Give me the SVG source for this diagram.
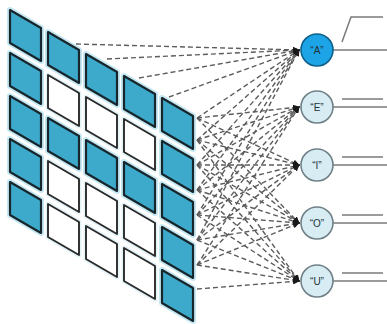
<svg xmlns="http://www.w3.org/2000/svg" xmlns:xlink="http://www.w3.org/1999/xlink" width="387" height="324" viewBox="0 0 387 324">
<style>
.g{fill:none;stroke:#c4e7f1;stroke-width:6;stroke-linejoin:round}
.gw{fill:none;stroke:#e3f3f8;stroke-width:5;stroke-linejoin:round}
.b{fill:#3eaacb;stroke:#17262c;stroke-width:2.2;stroke-linejoin:round}
.w{fill:#ffffff;stroke:#2a2a2a;stroke-width:1.9;stroke-linejoin:round}
.d{fill:none;stroke:#5c5c5c;stroke-width:1.4;stroke-dasharray:5 3;marker-end:url(#ah)}
.o{fill:none;stroke:#7a7a7a;stroke-width:1.5}
.n{fill:#d8ecf4;stroke:#6f8087;stroke-width:1.6}
.na{fill:#1ca4e6;stroke:#0d5f88;stroke-width:1.6}
.t{font-family:"Liberation Sans",Arial,sans-serif;font-size:10px;fill:#22323a;text-anchor:middle}
</style>
<defs>
<path id="tile" d="M0,0 L31,18 L31,51 L0,33 Z"/>
<marker id="ah" markerUnits="userSpaceOnUse" markerWidth="7" markerHeight="6" refX="6" refY="3" orient="auto">
<path d="M0,0 L7,3 L0,6 Z" fill="#1a1a1a"/>
</marker>
</defs>
<rect width="387" height="324" fill="#ffffff"/>

<g id="connectors">
<line class="d" x1="76" y1="44" x2="299" y2="50"/>
<line class="d" x1="107" y1="59" x2="299" y2="50"/>
<line class="d" x1="139" y1="78" x2="299" y2="50"/>
<line class="d" x1="169" y1="97" x2="299" y2="50"/>
<line class="d" x1="197" y1="118" x2="299" y2="50"/>
<line class="d" x1="197" y1="140" x2="299" y2="50"/>
<line class="d" x1="197" y1="165" x2="299" y2="50"/>
<line class="d" x1="197" y1="190" x2="299" y2="50"/>
<line class="d" x1="197" y1="215" x2="299" y2="50"/>
<line class="d" x1="197" y1="240" x2="299" y2="50"/>
<line class="d" x1="197" y1="118" x2="299" y2="107"/>
<line class="d" x1="197" y1="140" x2="299" y2="107"/>
<line class="d" x1="197" y1="165" x2="299" y2="107"/>
<line class="d" x1="197" y1="190" x2="299" y2="107"/>
<line class="d" x1="197" y1="215" x2="299" y2="107"/>
<line class="d" x1="197" y1="240" x2="299" y2="107"/>
<line class="d" x1="197" y1="265" x2="299" y2="107"/>
<line class="d" x1="197" y1="118" x2="299" y2="165"/>
<line class="d" x1="197" y1="140" x2="299" y2="165"/>
<line class="d" x1="197" y1="165" x2="299" y2="165"/>
<line class="d" x1="197" y1="190" x2="299" y2="165"/>
<line class="d" x1="197" y1="215" x2="299" y2="165"/>
<line class="d" x1="197" y1="240" x2="299" y2="165"/>
<line class="d" x1="197" y1="265" x2="299" y2="165"/>
<line class="d" x1="197" y1="118" x2="299" y2="223"/>
<line class="d" x1="197" y1="140" x2="299" y2="223"/>
<line class="d" x1="197" y1="165" x2="299" y2="223"/>
<line class="d" x1="197" y1="190" x2="299" y2="223"/>
<line class="d" x1="197" y1="215" x2="299" y2="223"/>
<line class="d" x1="197" y1="240" x2="299" y2="223"/>
<line class="d" x1="197" y1="265" x2="299" y2="223"/>
<line class="d" x1="197" y1="140" x2="299" y2="281"/>
<line class="d" x1="197" y1="165" x2="299" y2="281"/>
<line class="d" x1="197" y1="190" x2="299" y2="281"/>
<line class="d" x1="197" y1="215" x2="299" y2="281"/>
<line class="d" x1="197" y1="240" x2="299" y2="281"/>
<line class="d" x1="197" y1="265" x2="299" y2="281"/>
<line class="d" x1="197" y1="289" x2="299" y2="281"/>
</g>

<g id="grid">
<g id="glow">
<use href="#tile" class="g" x="10" y="10"/><use href="#tile" class="g" x="10" y="53"/><use href="#tile" class="g" x="10" y="96"/><use href="#tile" class="g" x="10" y="139"/><use href="#tile" class="g" x="10" y="182"/>
<use href="#tile" class="g" x="48" y="32"/><use href="#tile" class="gw" x="48" y="75"/><use href="#tile" class="g" x="48" y="118"/><use href="#tile" class="gw" x="48" y="161"/><use href="#tile" class="gw" x="48" y="204"/>
<use href="#tile" class="g" x="86" y="54"/><use href="#tile" class="gw" x="86" y="97"/><use href="#tile" class="g" x="86" y="140"/><use href="#tile" class="gw" x="86" y="183"/><use href="#tile" class="gw" x="86" y="226"/>
<use href="#tile" class="g" x="124" y="76"/><use href="#tile" class="gw" x="124" y="119"/><use href="#tile" class="g" x="124" y="162"/><use href="#tile" class="gw" x="124" y="205"/><use href="#tile" class="gw" x="124" y="248"/>
<use href="#tile" class="g" x="162" y="98"/><use href="#tile" class="g" x="162" y="141"/><use href="#tile" class="g" x="162" y="184"/><use href="#tile" class="g" x="162" y="227"/><use href="#tile" class="g" x="162" y="270"/>
</g>
<g id="tiles">
<use href="#tile" class="b" x="10" y="10"/><use href="#tile" class="b" x="10" y="53"/><use href="#tile" class="b" x="10" y="96"/><use href="#tile" class="b" x="10" y="139"/><use href="#tile" class="b" x="10" y="182"/>
<use href="#tile" class="b" x="48" y="32"/><use href="#tile" class="w" x="48" y="75"/><use href="#tile" class="b" x="48" y="118"/><use href="#tile" class="w" x="48" y="161"/><use href="#tile" class="w" x="48" y="204"/>
<use href="#tile" class="b" x="86" y="54"/><use href="#tile" class="w" x="86" y="97"/><use href="#tile" class="b" x="86" y="140"/><use href="#tile" class="w" x="86" y="183"/><use href="#tile" class="w" x="86" y="226"/>
<use href="#tile" class="b" x="124" y="76"/><use href="#tile" class="w" x="124" y="119"/><use href="#tile" class="b" x="124" y="162"/><use href="#tile" class="w" x="124" y="205"/><use href="#tile" class="w" x="124" y="248"/>
<use href="#tile" class="b" x="162" y="98"/><use href="#tile" class="b" x="162" y="141"/><use href="#tile" class="b" x="162" y="184"/><use href="#tile" class="b" x="162" y="227"/><use href="#tile" class="b" x="162" y="270"/>
</g>
</g>

<g id="node-A">
<polyline class="o" points="342,42 351,17 383,17"/>
<line class="o" x1="333" y1="50" x2="387" y2="50"/>
<circle class="na" cx="317" cy="50" r="16"/>
<text class="t" x="317" y="53.5">“A”</text>
</g>
<g id="node-E">
<line class="o" x1="342" y1="99" x2="383" y2="99"/>
<line class="o" x1="333" y1="107" x2="387" y2="107"/>
<circle class="n" cx="317" cy="107" r="16"/>
<text class="t" x="317" y="110.5">“E”</text>
</g>
<g id="node-I">
<line class="o" x1="342" y1="157" x2="383" y2="157"/>
<line class="o" x1="333" y1="165" x2="387" y2="165"/>
<circle class="n" cx="317" cy="165" r="16"/>
<text class="t" x="317" y="168.5">“I”</text>
</g>
<g id="node-O">
<line class="o" x1="342" y1="215" x2="383" y2="215"/>
<line class="o" x1="333" y1="223" x2="387" y2="223"/>
<circle class="n" cx="317" cy="223" r="16"/>
<text class="t" x="317" y="226.5">“O”</text>
</g>
<g id="node-U">
<line class="o" x1="342" y1="273" x2="383" y2="273"/>
<line class="o" x1="333" y1="281" x2="387" y2="281"/>
<circle class="n" cx="317" cy="281" r="16"/>
<text class="t" x="317" y="284.5">“U”</text>
</g>
</svg>
